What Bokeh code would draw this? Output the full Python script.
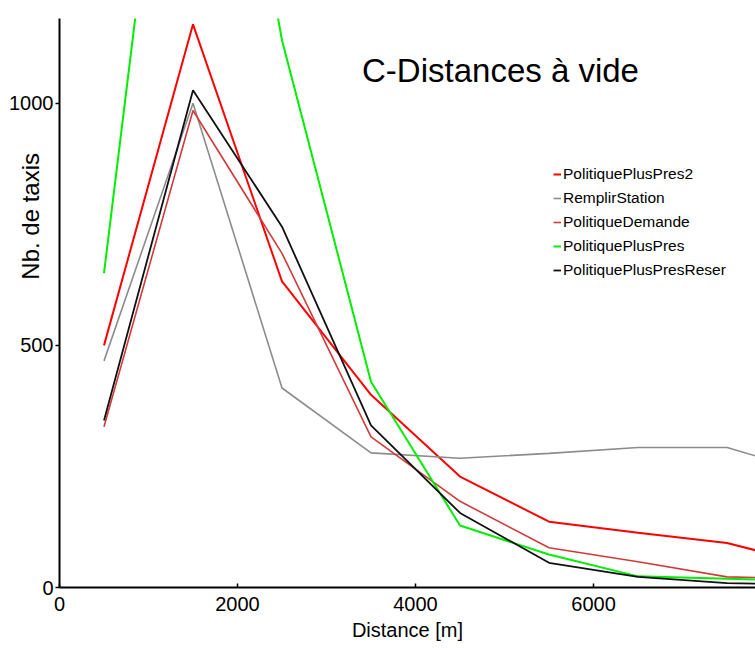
from bokeh.plotting import figure
from bokeh.models import Range1d, Label, Legend, FixedTicker
from bokeh.embed import file_html
from bokeh.resources import INLINE

# ---- data ----
distance = [500, 1500, 2500, 3500, 4500, 5500, 6500, 7500, 8500]
plus_pres2 = [500, 1163, 632, 398, 229, 136, 113, 92, 45]
remplir_station = [468, 1000, 412, 278, 267, 277, 289, 289, 235]
politique_demande = [332, 985, 690, 311, 178, 82, 53, 22, 18]
plus_pres = [649, 2150, 1130, 425, 128, 68, 23, 18, 14]
plus_pres_reser = [345, 1027, 745, 335, 154, 51, 22, 9, 6]

series_names = ["PolitiquePlusPres2", "RemplirStation", "PolitiqueDemande",
                "PolitiquePlusPres", "PolitiquePlusPresReser"]
series_values = [plus_pres2, remplir_station, politique_demande, plus_pres, plus_pres_reser]
series_colors = ["#ff0000", "#8c8c8c", "#d23a3a", "#00ee00", "#111111"]
series_widths = [2, 1.6, 1.6, 2, 1.8]

x_ticks = [0, 2000, 4000, 6000]
y_ticks = [0, 500, 1000]

title_text = "C-Distances à vide"
x_label = "Distance [m]"
y_label = "Nb. de taxis"

FONT = "Liberation Sans"

p = figure(frame_width=696, frame_height=569,
           x_range=Range1d(0, 7820), y_range=Range1d(0, 1175),
           output_backend="svg", toolbar_location=None,
           min_border_left=59, min_border_top=18, min_border_right=0,
           min_border_bottom=55)
p.outline_line_color = None
p.xgrid.grid_line_color = None
p.ygrid.grid_line_color = None
p.background_fill_color = "white"
p.border_fill_color = "white"

renderers = []
for name, vals, col, w in zip(series_names, series_values, series_colors, series_widths):
    r = p.line(distance, vals, line_color=col, line_width=w)
    renderers.append((name, r))

legend = Legend(items=[(n, [r]) for n, r in renderers], location=(494, 307))
legend.background_fill_alpha = 0
legend.border_line_color = None
legend.padding = 0
legend.margin = 0
legend.spacing = 4
legend.glyph_width = 8
legend.glyph_height = 20
legend.label_height = 20
legend.label_standoff = 2
legend.label_text_font = FONT
legend.label_text_font_size = "15.5px"
legend.label_text_color = "black"
p.add_layout(legend, "center")

# axes
p.xaxis.ticker = FixedTicker(ticks=x_ticks)
p.yaxis.ticker = FixedTicker(ticks=y_ticks)
for ax in (p.xaxis[0], p.yaxis[0]):
    ax.axis_line_color = "black"
    ax.axis_line_width = 2
    ax.major_tick_line_color = "black"
    ax.major_tick_line_width = 1.5
    ax.minor_tick_line_color = None
    ax.major_label_text_font = FONT
    ax.major_label_text_font_size = "20px"
    ax.major_label_text_color = "black"
    ax.axis_label_text_font = FONT
    ax.axis_label_text_font_style = "normal"
    ax.axis_label_text_color = "black"

p.xaxis.major_tick_in = 4
p.xaxis.major_tick_out = 0
p.xaxis.major_label_standoff = 9
p.xaxis.major_label_text_align = "left"
p.xaxis.axis_label = x_label
p.xaxis.axis_label_text_font_size = "20px"
p.xaxis.axis_label_standoff = 5

p.yaxis.major_tick_in = 0
p.yaxis.major_tick_out = 4
p.yaxis.major_label_standoff = 2
# leading no-break spaces move the label up along the axis, as in the original
p.yaxis.axis_label = "\u00a0" * 26 + y_label
p.yaxis.axis_label_text_font_size = "24px"
p.yaxis.axis_label_standoff = -38

# title inside the plot
p.add_layout(Label(x=4955, y=1067, text=title_text, text_font=FONT,
                   text_font_size="33px", text_align="center",
                   text_baseline="middle", text_color="black"))

open("out.html", "w").write(file_html(p, INLINE))
